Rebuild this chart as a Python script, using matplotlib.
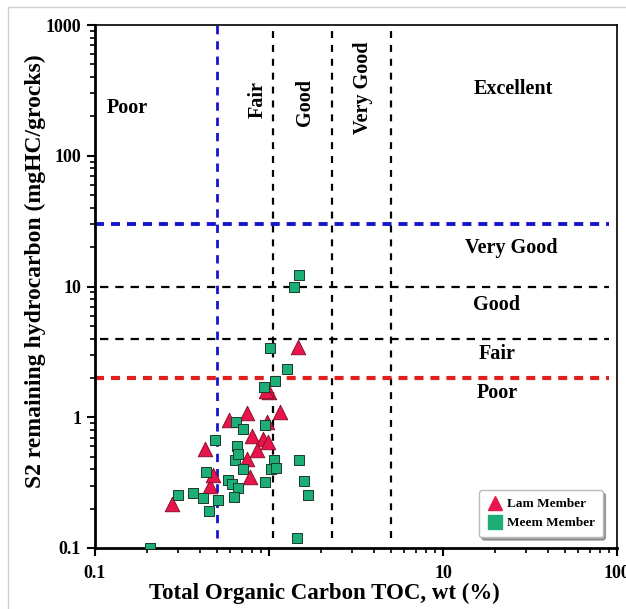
import matplotlib
matplotlib.use("Agg")
import matplotlib.pyplot as plt
from matplotlib.ticker import FixedLocator, LogLocator, NullFormatter, FixedFormatter
from matplotlib.lines import Line2D

plt.rcParams['font.family'] = ['Liberation Serif', 'DejaVu Serif']
plt.rcParams['font.weight'] = 'bold'
plt.rcParams['lines.scale_dashes'] = False

# ---- data ----
lam_toc = [1.47, 0.75, 1.16, 0.59, 0.97, 0.80, 0.925, 0.99, 0.85, 0.43, 0.75, 0.78,
           0.457, 0.475, 0.277, 1.0, 0.96]
lam_s2 = [3.45, 1.08, 1.10, 0.95, 0.92, 0.72, 0.68, 0.65, 0.56, 0.57, 0.48, 0.35,
          0.30, 0.36, 0.217, 1.55, 1.58]

meem_toc = [0.207, 1.02, 1.27, 1.08, 0.94, 1.39, 1.49,
            0.49, 0.646, 0.709, 0.95, 0.655, 0.635, 0.66, 0.709,
            1.07, 1.03, 1.10, 0.58, 0.61, 0.66, 0.63, 0.95,
            0.435, 0.366, 0.30, 0.417, 0.51, 0.452,
            1.49, 1.59, 1.67, 1.45]
meem_s2 = [0.10, 3.4, 2.35, 1.88, 1.70, 9.9, 12.2,
           0.67, 0.92, 0.81, 0.87, 0.60, 0.47, 0.52, 0.40,
           0.47, 0.40, 0.41, 0.33, 0.31, 0.29, 0.245, 0.32,
           0.38, 0.263, 0.254, 0.24, 0.233, 0.192,
           0.47, 0.325, 0.254, 0.119]

toc_limits = [0.5, 1.05, 2.3, 5.0]          # vertical class boundaries
s2_limits = [30, 10, 4, 2]                  # horizontal class boundaries

x_ticks = [0.1, 1, 10, 100]
x_ticklabels = ['0.1', '', '10', '100']
y_ticks = [0.1, 1, 10, 100, 1000]
y_ticklabels = ['0.1', '1', '10', '100', '1000']

red = '#E8154C'
green = '#1DAE78'

fig = plt.figure(figsize=(6.26, 6.09), dpi=100)
ax = fig.add_axes([95/626, 61/609, 522/626, 523/609])
ax.set_xscale('log')
ax.set_yscale('log')
ax.set_xlim(0.1, 100)
ax.set_ylim(0.1, 1000)

# class boundary lines
ax.axvline(toc_limits[0], ymin=0.02, ymax=1, color='#1515D0', lw=2.0, dashes=(6, 5), zorder=1)
for xv in toc_limits[1:]:
    ax.axvline(xv, ymin=0.02, ymax=1, color='black', lw=1.6, dashes=(5, 5), zorder=1)
ax.axhline(s2_limits[0], xmin=0, xmax=0.985, color='#1515D0', lw=2.8, dashes=(6.5, 5), zorder=1)
ax.axhline(s2_limits[1], xmin=0.01, xmax=0.985, color='black', lw=1.6, dashes=(6, 5), zorder=1)
ax.axhline(s2_limits[2], xmin=0.01, xmax=0.985, color='black', lw=1.6, dashes=(6, 5), zorder=1)
ax.axhline(s2_limits[3], xmin=0, xmax=0.985, color='#E02020', lw=3.0, dashes=(6.5, 5), zorder=1)

# data
ax.scatter(lam_toc, lam_s2, marker='^', s=110, c=red, edgecolors='#7A0A22',
           linewidths=0.6, zorder=3, label='Lam Member')
ax.scatter(meem_toc, meem_s2, marker='s', s=55, c=green, edgecolors='#1B3A2A',
           linewidths=0.7, zorder=4, label='Meem Member')

# region labels
fs = 14.5
ax.text(0.153, 232, 'Poor', fontsize=fs, fontweight='bold', ha='center', va='center')
ax.text(0.865, 267, 'Fair', fontsize=fs, fontweight='bold', ha='center', va='center', rotation=90)
ax.text(1.61, 257, 'Good', fontsize=fs, fontweight='bold', ha='center', va='center', rotation=90)
ax.text(3.47, 330, 'Very Good', fontsize=fs, fontweight='bold', ha='center', va='center', rotation=90)
ax.text(25.3, 324, 'Excellent', fontsize=fs, fontweight='bold', ha='center', va='center')
ax.text(24.6, 19.7, 'Very Good', fontsize=fs, fontweight='bold', ha='center', va='center')
ax.text(20.4, 7.2, 'Good', fontsize=fs, fontweight='bold', ha='center', va='center')
ax.text(20.4, 3.05, 'Fair', fontsize=fs, fontweight='bold', ha='center', va='center')
ax.text(20.4, 1.53, 'Poor', fontsize=fs, fontweight='bold', ha='center', va='center')

# ticks
ax.xaxis.set_major_locator(FixedLocator(x_ticks))
ax.xaxis.set_major_formatter(FixedFormatter(x_ticklabels))
ax.yaxis.set_major_locator(FixedLocator(y_ticks))
ax.yaxis.set_major_formatter(FixedFormatter(y_ticklabels))
ax.xaxis.set_minor_locator(LogLocator(base=10, subs=range(2, 10), numticks=20))
ax.yaxis.set_minor_locator(LogLocator(base=10, subs=range(2, 10), numticks=20))
ax.xaxis.set_minor_formatter(NullFormatter())
ax.yaxis.set_minor_formatter(NullFormatter())
ax.tick_params(axis='both', which='major', direction='out', length=6, width=1.5,
               labelsize=13)
ax.tick_params(axis='both', which='minor', direction='out', length=3.5, width=1.2)
ax.tick_params(axis='x', which='major', pad=6.5)
ax.tick_params(axis='y', which='major', pad=4)
for lab in ax.get_xticklabels() + ax.get_yticklabels():
    lab.set_fontweight('bold')

for side in ['left', 'bottom']:
    ax.spines[side].set_linewidth(2.0)
for side in ['top', 'right']:
    ax.spines[side].set_linewidth(1.2)

ax.set_xlabel('Total Organic Carbon TOC, wt (%)', fontsize=16.5, fontweight='bold')
ax.set_ylabel('S2 remaining hydrocarbon (mgHC/grocks)', fontsize=17, fontweight='bold')
ax.xaxis.set_label_coords(0.439, -0.066)
ax.yaxis.set_label_coords(-0.094, 0.53)

handles = [Line2D([], [], marker='^', color='none', markerfacecolor=red, markeredgecolor=red,
                  markersize=9.5, label='Lam Member'),
           Line2D([], [], marker='s', color='none', markerfacecolor=green, markeredgecolor=green,
                  markersize=9.5, label='Meem Member')]
leg = ax.legend(handles=handles, loc='lower right', bbox_to_anchor=(0.985, 0.008),
                fancybox=True, shadow=True, framealpha=1, edgecolor='#BBBBBB',
                prop={'family': 'Liberation Serif', 'weight': 'bold', 'size': 9.5},
                handletextpad=0.3, borderpad=0.6, labelspacing=0.5, handlelength=1.2)

# outer light frame of the picture
fig.add_artist(Line2D([8/626, 8/626], [0, 1 - 7/609], color='#D0D0D0', lw=1.0))
fig.add_artist(Line2D([8/626, 1], [1 - 7/609, 1 - 7/609], color='#D0D0D0', lw=1.0))

fig.savefig('out.png', dpi=100)
